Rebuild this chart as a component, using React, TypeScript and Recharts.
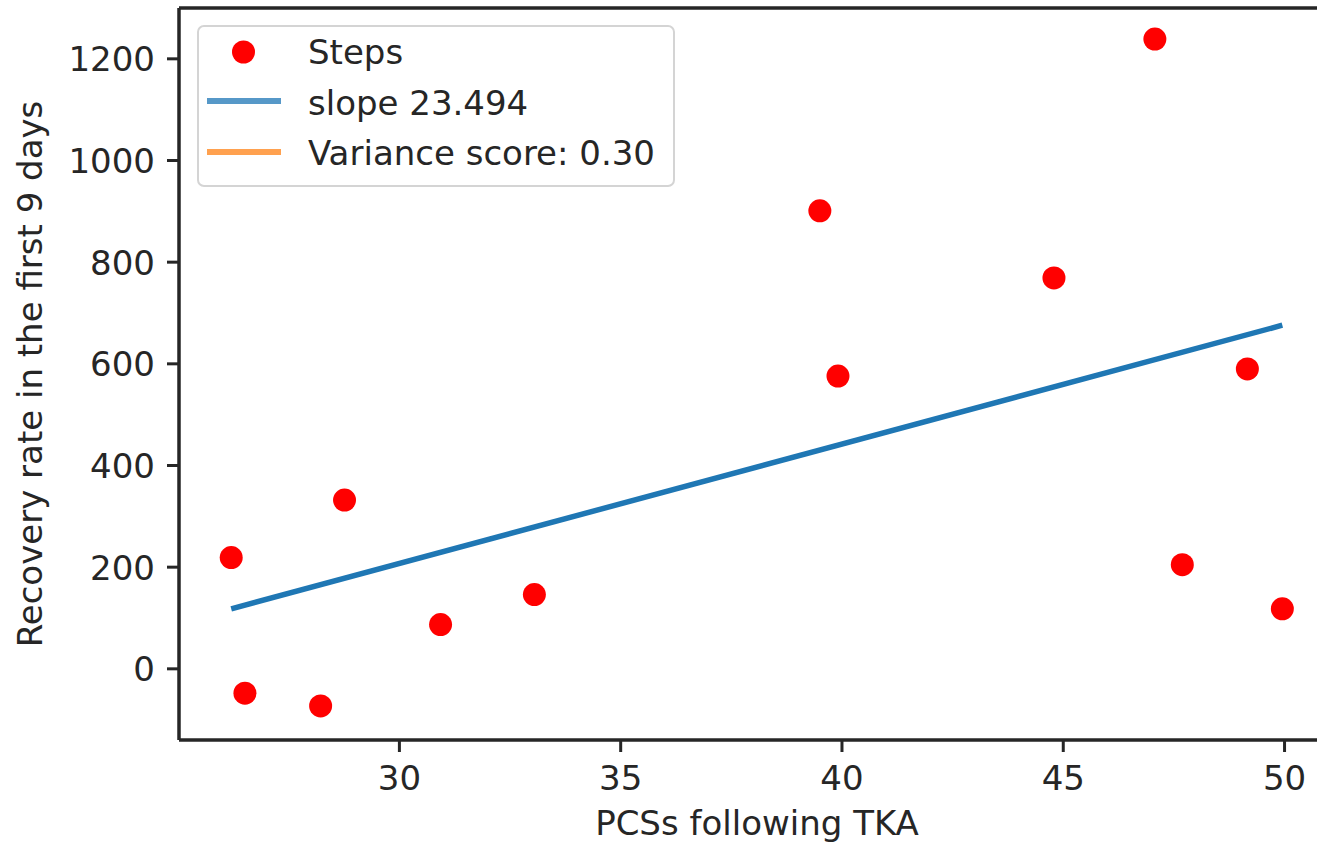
import React from 'react';
import { ComposedChart, Scatter, XAxis, YAxis } from 'recharts';

// PCSs following TKA (x) and recovery steps (y)
const pcsValues = [26.2, 26.51, 28.22, 28.76, 30.93, 33.05, 39.5, 39.91, 44.79, 47.07, 47.69, 49.16, 49.95];
const stepValues = [219, -48, -73, 332, 87, 146, 901, 576, 769, 1239, 205, 590, 118];

// Regression line endpoints
const fitX = [26.2, 49.95];
const fitY = [118, 676];

const xTicks = [30, 35, 40, 45, 50];
const yTicks = [0, 200, 400, 600, 800, 1000, 1200];

const legendLabels = ['Steps', 'slope 23.494', 'Variance score: 0.30'];

const scatterData = pcsValues.map((x, i) => ({ x, y: stepValues[i] }));
const fitData = fitX.map((x, i) => ({ x, y: fitY[i] }));

const FONT = "'DejaVu Sans', sans-serif";
const SPINE = '#262626';

const XTick = (props: any) => {
  const { x, y, payload } = props;
  return (
    <text x={x} y={y + 26} textAnchor="middle" fontFamily={FONT} fontSize={34} fill="#262626">
      {payload.value}
    </text>
  );
};

const YTick = (props: any) => {
  const { x, y, payload } = props;
  return (
    <text x={x} y={y + 12.5} textAnchor="end" fontFamily={FONT} fontSize={34} fill="#262626">
      {payload.value}
    </text>
  );
};

const Dot = (props: any) => {
  const { cx, cy } = props;
  return <circle cx={cx} cy={cy} r={11.5} fill="#ff0000" />;
};

const NoShape = () => null;

export default function App() {
  return (
    <div
      style={{
        position: 'absolute',
        left: 0,
        top: 0,
        width: 1317,
        height: 844,
        overflow: 'hidden',
        background: '#ffffff',
      }}
    >
      <ComposedChart
        width={1345}
        height={844}
        margin={{ top: 0, right: 10, bottom: 0, left: 0 }}
      >
        <XAxis
          xAxisId="main"
          type="number"
          dataKey="x"
          domain={[25.02, 51.14]}
          ticks={xTicks}
          allowDataOverflow
          height={104}
          axisLine={{ stroke: SPINE, strokeWidth: 3.5 }}
          tickLine={{ stroke: SPINE, strokeWidth: 3 }}
          tickSize={12}
          tickMargin={12}
          tick={<XTick />}
          label={{
            value: 'PCSs following TKA',
            position: 'insideBottom',
            offset: 9,
            fontFamily: FONT,
            fontSize: 34,
            fill: '#262626',
          }}
        />
        <XAxis
          xAxisId="top"
          orientation="top"
          type="number"
          dataKey="x"
          domain={[25.02, 51.14]}
          height={8}
          tick={false}
          tickLine={false}
          axisLine={{ stroke: SPINE, strokeWidth: 3.5 }}
        />
        <YAxis
          yAxisId="main"
          type="number"
          dataKey="y"
          domain={[-140, 1300]}
          ticks={yTicks}
          allowDataOverflow
          width={179}
          axisLine={{ stroke: SPINE, strokeWidth: 3.5 }}
          tickLine={{ stroke: SPINE, strokeWidth: 3 }}
          tickSize={12}
          tickMargin={12}
          tick={<YTick />}
          label={{
            value: 'Recovery rate in the first 9 days',
            angle: -90,
            position: 'insideLeft',
            offset: 30,
            style: { textAnchor: 'middle' },
            fontFamily: FONT,
            fontSize: 34,
            fill: '#262626',
          }}
        />
        <YAxis
          yAxisId="right"
          orientation="right"
          type="number"
          dataKey="y"
          domain={[-140, 1300]}
          width={0}
          tick={false}
          tickLine={false}
          axisLine={{ stroke: SPINE, strokeWidth: 3.5 }}
        />
        <Scatter
          xAxisId="main"
          yAxisId="main"
          name={legendLabels[1]}
          data={fitData}
          line={{ stroke: '#1f77b4', strokeWidth: 5.5 }}
          shape={NoShape}
          isAnimationActive={false}
        />
        <Scatter
          xAxisId="main"
          yAxisId="main"
          name={legendLabels[0]}
          data={scatterData}
          shape={Dot}
          isAnimationActive={false}
        />
      </ComposedChart>
      <div
        style={{
          position: 'absolute',
          left: 197,
          top: 25,
          width: 474,
          height: 158,
          border: '2.5px solid #d4d4d4',
          borderRadius: 7,
          background: 'rgba(255,255,255,0.85)',
        }}
      >
        <svg width={474} height={158} style={{ position: 'absolute', left: 0, top: 0 }}>
          <circle cx={44.5} cy={25} r={11.5} fill="#ff0000" />
          <line x1={8} x2={82} y1={74} y2={74} stroke="#5698c8" strokeWidth={6} />
          <line x1={8} x2={82} y1={125} y2={125} stroke="#ffa14f" strokeWidth={6} />
          {legendLabels.map((t, i) => (
            <text
              key={t}
              x={109}
              y={37 + i * 50.5}
              fontFamily={FONT}
              fontSize={34}
              fill="#262626"
            >
              {t}
            </text>
          ))}
        </svg>
      </div>
    </div>
  );
}
